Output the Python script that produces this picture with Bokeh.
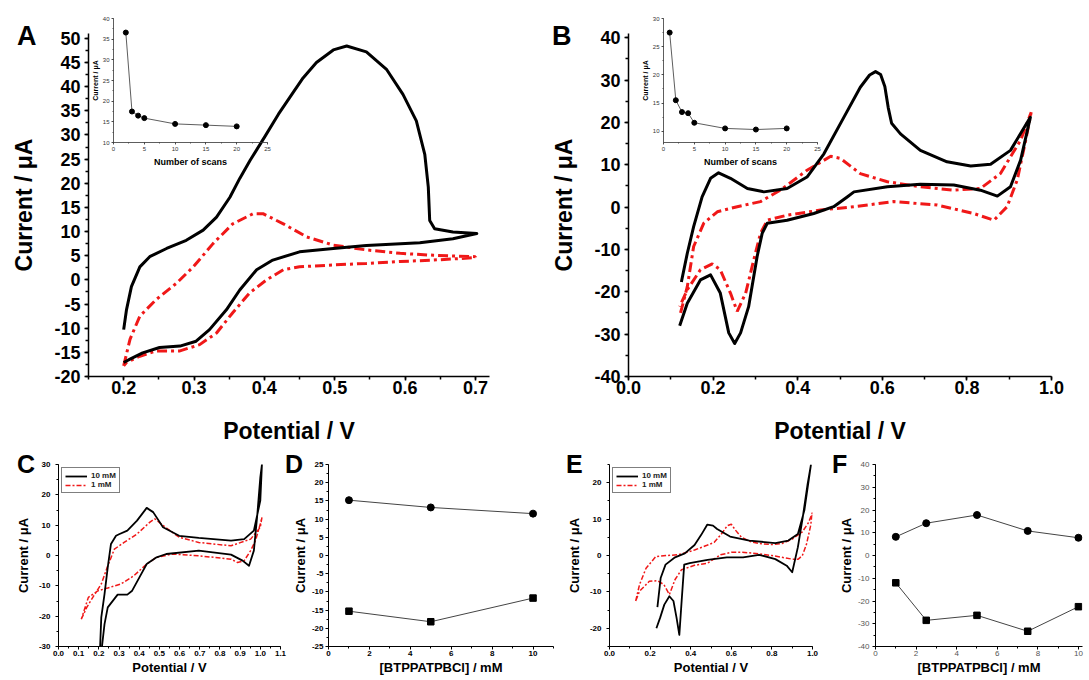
from bokeh.plotting import figure
from bokeh.models import (GridBox, Column, Div, Legend, LegendItem, Range1d,
                          SingleIntervalTicker, NumeralTickFormatter)
from bokeh.embed import file_html
from bokeh.resources import INLINE

FONT = "Liberation Sans"

# ---------------- data ----------------
# Panel A: cyclic voltammograms, potential (V) / current (uA)
a_black_v = [0.200, 0.204, 0.211, 0.223, 0.237, 0.261, 0.289, 0.313, 0.332, 0.351, 0.365, 0.380,
             0.400, 0.420, 0.440, 0.455, 0.474, 0.498, 0.517, 0.545, 0.574, 0.597, 0.616, 0.628,
             0.633, 0.635, 0.642, 0.668, 0.702, 0.668, 0.621, 0.545, 0.498, 0.450, 0.412, 0.389,
             0.365, 0.346, 0.322, 0.303, 0.280, 0.251, 0.227, 0.209, 0.200]
a_black_i = [-10.3, -6.2, -1.4, 2.7, 4.8, 6.5, 8.2, 10.3, 13.0, 17.1, 21.0, 24.8,
             29.5, 34.3, 38.6, 41.8, 45.0, 47.6, 48.4, 47.2, 43.5, 38.4, 32.9, 26.0,
             19.2, 12.3, 10.6, 9.9, 9.6, 8.5, 7.7, 7.1, 6.5, 5.8, 4.1, 2.1,
             -2.1, -6.2, -10.3, -12.7, -13.7, -14.0, -15.1, -16.4, -17.1]
a_red_v = [0.200, 0.209, 0.223, 0.246, 0.275, 0.299, 0.327, 0.355, 0.384, 0.398, 0.427, 0.460,
           0.498, 0.545, 0.593, 0.640, 0.700, 0.700, 0.640, 0.593, 0.545, 0.498, 0.450, 0.427,
           0.403, 0.379, 0.355, 0.332, 0.308, 0.280, 0.246, 0.223, 0.204, 0.200]
a_red_i = [-17.8, -12.3, -7.5, -4.1, -0.7, 2.7, 7.5, 11.6, 13.7, 13.7, 11.6, 8.9,
           7.2, 6.2, 5.5, 5.1, 4.8, 4.6, 4.1, 3.8, 3.4, 3.1, 2.7, 2.1,
           0.0, -2.7, -6.8, -11.0, -13.4, -14.7, -14.7, -15.8, -17.1, -17.8]

# Panel A inset: peak current vs number of scans
scans_a = [2, 3, 4, 5, 10, 15, 20]
peak_a = [36.6, 17.5, 16.5, 15.9, 14.5, 14.2, 13.9]

# Panel B
b_black_v = [0.125, 0.139, 0.154, 0.174, 0.194, 0.213, 0.241, 0.281, 0.320, 0.375, 0.422, 0.462,
             0.509, 0.548, 0.570, 0.584, 0.596, 0.606, 0.614, 0.622, 0.643, 0.690, 0.753, 0.809,
             0.856, 0.903, 0.950, 0.927, 0.903, 0.872, 0.832, 0.769, 0.690, 0.612, 0.533, 0.517,
             0.485, 0.438, 0.375, 0.328, 0.316, 0.304, 0.284, 0.265, 0.251, 0.237, 0.217, 0.194,
             0.170, 0.139, 0.121]
b_black_i = [-17.7, -10.9, -4.6, 2.4, 6.8, 8.1, 6.8, 4.4, 3.6, 4.4, 7.1, 12.6,
             21.2, 28.3, 31.2, 32.0, 31.3, 28.5, 23.5, 19.8, 17.3, 13.4, 10.7, 9.7,
             10.1, 13.4, 21.2, 11.1, 4.8, 2.6, 4.0, 5.2, 5.4, 4.8, 3.6, 2.4,
             0.1, -1.5, -3.1, -3.8, -6.2, -11.7, -23.5, -29.7, -32.2, -29.7, -20.3, -16.0,
             -17.2, -22.7, -28.0]
b_red_v = [0.123, 0.139, 0.154, 0.178, 0.210, 0.257, 0.312, 0.359, 0.422, 0.478, 0.501, 0.548,
           0.612, 0.690, 0.769, 0.832, 0.879, 0.927, 0.952, 0.939, 0.919, 0.895, 0.864, 0.816,
           0.730, 0.627, 0.533, 0.454, 0.375, 0.328, 0.312, 0.296, 0.277, 0.257, 0.241, 0.217,
           0.198, 0.170, 0.139, 0.121]
b_red_i = [-25.0, -18.8, -9.3, -3.8, -1.1, 0.1, 1.3, 4.0, 8.7, 12.0, 11.5, 7.9,
           6.0, 4.8, 4.0, 4.4, 7.9, 15.8, 22.4, 15.8, 6.4, 0.1, -3.1, -1.5,
           0.5, 1.3, 0.1, -0.7, -1.9, -3.1, -6.2, -12.5, -20.3, -24.6, -20.3, -14.8,
           -13.4, -14.8, -19.5, -23.5]

# Panel B inset
scans_b = [1, 2, 3, 4, 5, 10, 15, 20]
peak_b = [27.5, 15.5, 13.4, 13.2, 11.5, 10.5, 10.3, 10.5]

# Panel C
c_black_v = [0.205, 0.212, 0.228, 0.244, 0.260, 0.285, 0.300, 0.341, 0.389, 0.437, 0.469, 0.518,
             0.598, 0.695, 0.855, 0.920, 0.968, 1.000, 1.008, 1.000, 0.984, 0.968, 0.944, 0.912,
             0.855, 0.695, 0.534, 0.486, 0.437, 0.405, 0.365, 0.341, 0.293, 0.244, 0.228, 0.212]
c_black_i = [-32.0, -20.4, -12.7, -3.9, 3.8, 6.5, 7.0, 8.2, 11.5, 15.7, 14.3, 9.3,
             6.5, 5.8, 4.9, 5.4, 8.2, 18.1, 30.0, 25.8, 12.6, 1.6, -3.4, -1.7,
             0.3, 1.6, 0.5, -0.6, -2.8, -6.7, -11.6, -12.9, -12.9, -17.1, -22.6, -32.0]
c_red_v = [0.113, 0.140, 0.170, 0.212, 0.244, 0.277, 0.325, 0.389, 0.453, 0.477, 0.518, 0.598,
           0.695, 0.855, 0.952, 1.000, 1.008, 1.000, 0.976, 0.952, 0.920, 0.887, 0.855, 0.695,
           0.566, 0.486, 0.437, 0.373, 0.309, 0.244, 0.196, 0.148, 0.113]
c_red_i = [-21.0, -17.1, -13.8, -9.4, -3.4, 2.1, 4.3, 7.1, 11.0, 12.1, 9.9, 6.0,
           4.3, 3.2, 5.4, 9.3, 12.6, 10.4, 4.9, 1.6, -1.7, -2.3, -1.2, -0.1,
           0.5, -0.6, -2.8, -6.7, -9.4, -10.7, -11.6, -13.8, -21.0]

# Panel D: peak currents vs concentration
d_conc = [1, 5, 10]
d_anodic = [15.2, 13.2, 11.5]
d_cathodic = [-15.3, -18.2, -11.7]

# Panel E
e_black_v = [0.236, 0.252, 0.276, 0.323, 0.371, 0.419, 0.451, 0.482, 0.510, 0.530, 0.594, 0.689,
             0.817, 0.881, 0.928, 0.960, 0.992, 0.976, 0.952, 0.928, 0.900, 0.873, 0.817, 0.737,
             0.658, 0.578, 0.483, 0.395, 0.368, 0.356, 0.344, 0.330, 0.315, 0.295, 0.270, 0.250,
             0.231]
e_black_i = [-14.2, -6.2, -2.5, -0.5, 0.6, 2.9, 5.6, 8.5, 8.2, 7.3, 5.2, 4.1,
             3.4, 4.1, 5.9, 12.4, 24.8, 19.7, 10.5, 2.3, -4.6, -2.8, -1.0, 0.2,
             -0.5, -0.5, -1.2, -2.1, -2.5, -12.0, -21.8, -17.0, -12.5, -11.2, -13.5, -17.0,
             -20.0]
e_red_v = [0.129, 0.148, 0.180, 0.228, 0.280, 0.339, 0.419, 0.480, 0.515, 0.554, 0.580, 0.600,
           0.620, 0.650, 0.700, 0.750, 0.800, 0.850, 0.900, 0.950, 0.980, 1.000, 0.990, 0.970,
           0.950, 0.930, 0.900, 0.850, 0.800, 0.700, 0.650, 0.602, 0.547, 0.483, 0.419, 0.355,
           0.323, 0.295, 0.268, 0.236, 0.196, 0.148, 0.129]
e_red_i = [-12.5, -8.0, -3.5, -0.3, 0.0, 0.2, 1.5, 2.8, 3.6, 6.1, 8.2, 8.6,
           7.0, 5.0, 3.7, 3.2, 3.0, 3.3, 4.5, 6.5, 9.0, 11.8, 8.0, 3.0,
           0.0, -1.0, -1.0, -0.5, 0.0, 0.7, 0.9, 0.9, 0.2, -2.1, -2.7, -3.9,
           -6.6, -10.7, -8.0, -6.9, -7.1, -9.8, -12.5]

# Panel F
f_conc = [1, 2.5, 5, 7.5, 10]
f_anodic = [8.2, 14.2, 17.8, 10.8, 7.8]
f_cathodic = [-12.0, -28.5, -26.3, -33.3, -22.5]

# texts
x_title_cv = "Potential / V"
y_title = "Current / \u03bcA"
x_title_conc = "[BTPPATPBCl] / mM"
x_title_scans = "Number of scans"
legend_labels = ["10 mM", "1 mM"]
panel_letters = ["A", "B", "C", "D", "E", "F"]

RED = "#f01818"


def make_fig(w, h, xr, yr, bl, br, bt, bb):
    p = figure(width=w, height=h, x_range=Range1d(*xr), y_range=Range1d(*yr),
               output_backend="svg", toolbar_location=None,
               min_border_left=bl, min_border_right=br,
               min_border_top=bt, min_border_bottom=bb)
    p.outline_line_color = None
    p.xgrid.visible = False
    p.ygrid.visible = False
    p.background_fill_color = None
    p.border_fill_color = None
    return p


def style_axis(ax, interval, minor, fmt, title, tick_px, title_px, title_standoff,
               tick_out, minor_out, lw, label_standoff=3, tick_style="bold",
               tick_color="black", axis_color="black", title_style="bold"):
    ax.ticker = SingleIntervalTicker(interval=interval, num_minor_ticks=minor)
    ax.formatter = NumeralTickFormatter(format=fmt)
    ax.axis_label = title
    ax.axis_label_text_font = FONT
    ax.axis_label_text_font_size = f"{title_px}px"
    ax.axis_label_text_font_style = title_style
    ax.axis_label_text_color = "black"
    ax.axis_label_standoff = title_standoff
    ax.major_label_text_font = FONT
    ax.major_label_text_font_size = f"{tick_px}px"
    ax.major_label_text_font_style = tick_style
    ax.major_label_text_color = tick_color
    ax.major_label_standoff = label_standoff
    ax.axis_line_width = lw
    ax.axis_line_color = axis_color
    ax.major_tick_line_width = lw
    ax.minor_tick_line_width = lw
    ax.major_tick_line_color = axis_color
    ax.minor_tick_line_color = axis_color
    ax.major_tick_in = 0
    ax.major_tick_out = tick_out
    ax.minor_tick_in = 0
    ax.minor_tick_out = minor_out


def letter_div(text, top, left, size):
    return Div(text=text, width=34, height=size + 4, margin=(top, 0, 0, left),
               styles={"font-family": FONT, "font-size": f"{size}px", "font-weight": "bold",
                       "line-height": f"{size}px", "color": "black"})


def add_legend(p, r_black, r_red):
    leg = Legend(items=[LegendItem(label=legend_labels[0], renderers=[r_black]),
                        LegendItem(label=legend_labels[1], renderers=[r_red])],
                 location="top_left", label_text_font=FONT, label_text_font_size="8px",
                 label_text_font_style="bold", label_text_color="#222",
                 glyph_width=22, glyph_height=8, label_height=8, spacing=0,
                 padding=3, margin=3, label_standoff=4,
                 border_line_color="black", border_line_width=1,
                 background_fill_color="white", background_fill_alpha=1.0)
    p.add_layout(leg)


# ---------------- Panel A ----------------
pA = make_fig(545, 446, (0.15, 0.72), (-20, 51), 88, 56, 32, 69)
style_axis(pA.xaxis[0], 0.1, 2, "0.0", x_title_cv, 18, 23, 21, 4, 3, 1.5, label_standoff=0)
style_axis(pA.yaxis[0], 5, 2, "0", y_title, 18, 23, 14, 4, 3, 1.5, label_standoff=4)
pA.line(a_red_v, a_red_i, line_color=RED, line_width=3, line_dash="10 4 3 4")
pA.line(a_black_v, a_black_i, line_color="black", line_width=3, line_join="round")

# inset A
iA = make_fig(191, 162, (0, 25), (10, 40), 29, 8, 8, 30)
style_axis(iA.xaxis[0], 5, 2, "0", x_title_scans, 6, 9, 3, 2, 1, 0.8, label_standoff=2,
           tick_style="normal", tick_color="#333", axis_color="#333")
style_axis(iA.yaxis[0], 5, 2, "0", y_title, 6, 7, 1, 2, 1, 0.8, label_standoff=2,
           tick_style="normal", tick_color="#333", axis_color="#333")
iA.line(scans_a, peak_a, line_color="#333", line_width=0.8)
iA.scatter(scans_a, peak_a, marker="circle", size=5, color="black")

# ---------------- Panel B ----------------
pB = make_fig(544, 446, (0.0, 1.0), (-40, 41), 83, 38, 33, 69)
style_axis(pB.xaxis[0], 0.2, 2, "0.0", x_title_cv, 18, 23, 21, 4, 3, 1.5, label_standoff=0)
style_axis(pB.yaxis[0], 10, 2, "0", y_title, 18, 23, 14, 4, 3, 1.5, label_standoff=4)
pB.line(b_red_v, b_red_i, line_color=RED, line_width=3, line_dash="10 4 3 4")
pB.line(b_black_v, b_black_i, line_color="black", line_width=3, line_join="round")

# inset B
iB = make_fig(191, 162, (0, 25), (8, 30), 29, 8, 8, 29)
style_axis(iB.xaxis[0], 5, 2, "0", x_title_scans, 6, 9, 3, 2, 1, 0.8, label_standoff=2,
           tick_style="normal", tick_color="#333", axis_color="#333")
style_axis(iB.yaxis[0], 5, 2, "0", y_title, 6, 7, 1, 2, 1, 0.8, label_standoff=2,
           tick_style="normal", tick_color="#333", axis_color="#333")
iB.line(scans_b, peak_b, line_color="#333", line_width=0.8)
iB.scatter(scans_b, peak_b, marker="circle", size=5, color="black")

# ---------------- Panel C ----------------
pC = make_fig(289, 233, (0.0, 1.1), (-30, 30), 58, 9, 18, 33)
style_axis(pC.xaxis[0], 0.1, 2, "0.0", x_title_cv, 8, 13, 1, 3, 2, 1, label_standoff=1)
style_axis(pC.yaxis[0], 10, 2, "0", y_title, 8, 13, 5, 3, 2, 1, label_standoff=5)
rCr = pC.line(c_red_v, c_red_i, line_color=RED, line_width=1.5, line_dash="5 2 2 2")
rCb = pC.line(c_black_v, c_black_i, line_color="black", line_width=1.8, line_join="round")
add_legend(pC, rCb, rCr)

# ---------------- Panel D ----------------
pD = make_fig(274, 233, (0, 11), (-25, 25), 34, 10, 18, 33)
style_axis(pD.xaxis[0], 2, 2, "0", x_title_conc, 8, 13, 1, 3, 2, 1, label_standoff=1)
style_axis(pD.yaxis[0], 5, 2, "0", y_title, 8, 13, 1, 3, 2, 1, label_standoff=2)
pD.line(d_conc, d_anodic, line_color="#444", line_width=1)
pD.line(d_conc, d_cathodic, line_color="#444", line_width=1)
pD.scatter(d_conc, d_anodic, marker="circle", size=7, color="black")
pD.scatter(d_conc, d_cathodic, marker="square", size=6.5, color="black")

# ---------------- Panel E ----------------
pE = make_fig(272, 233, (0.0, 1.0), (-25, 25), 42, 23, 18, 33)
style_axis(pE.xaxis[0], 0.2, 2, "0.0", x_title_cv, 8, 13, 1, 3, 2, 1, label_standoff=1)
style_axis(pE.yaxis[0], 10, 2, "0", y_title, 8, 13, 5, 3, 2, 1, label_standoff=5)
rEr = pE.line(e_red_v, e_red_i, line_color=RED, line_width=1.5, line_dash="5 2 2 2")
rEb = pE.line(e_black_v, e_black_i, line_color="black", line_width=1.8, line_join="round")
add_legend(pE, rEb, rEr)

# ---------------- Panel F ----------------
pF = make_fig(254, 233, (0, 10.2), (-40, 40), 35, 7, 18, 33)
style_axis(pF.xaxis[0], 2, 2, "0", x_title_conc, 8, 13, 1, 3, 2, 1, label_standoff=1,
           tick_style="normal", tick_color="#555")
style_axis(pF.yaxis[0], 10, 2, "0", y_title, 8, 13, 1, 3, 2, 1, label_standoff=3,
           tick_style="normal", tick_color="#555")
pF.line(f_conc, f_anodic, line_color="#444", line_width=1)
pF.line(f_conc, f_cathodic, line_color="#444", line_width=1)
pF.scatter(f_conc, f_anodic, marker="circle", size=7, color="black")
pF.scatter(f_conc, f_cathodic, marker="square", size=6.5, color="black")

# ---------------- layout ----------------
top = GridBox(children=[
    (pA, 0, 0, 3, 4),
    (pB, 0, 4, 3, 5),
    (iA, 1, 1, 1, 1),
    (iB, 1, 6, 1, 1),
    (letter_div(panel_letters[0], 23, 17, 27), 0, 0, 3, 9),
    (letter_div(panel_letters[1], 23, 552, 27), 0, 0, 3, 9),
], rows=["10px", "162px", "274px"],
   cols=["84px", "191px", "14px", "256px", "18px", "71px", "191px", "10px", "254px"],
   spacing=0)

bottom = GridBox(children=[
    (pC, 0, 0, 1, 1),
    (pD, 0, 1, 1, 1),
    (pE, 0, 2, 1, 1),
    (pF, 0, 3, 1, 1),
    (letter_div(panel_letters[2], 6, 17, 25), 0, 0, 1, 4),
    (letter_div(panel_letters[3], 6, 285, 25), 0, 0, 1, 4),
    (letter_div(panel_letters[4], 6, 566, 25), 0, 0, 1, 4),
    (letter_div(panel_letters[5], 6, 832, 25), 0, 0, 1, 4),
], rows=["233px"], cols=["289px", "274px", "272px", "254px"], spacing=0)

layout = Column(children=[top, bottom], spacing=0)

open("out.html", "w").write(file_html(layout, INLINE))
